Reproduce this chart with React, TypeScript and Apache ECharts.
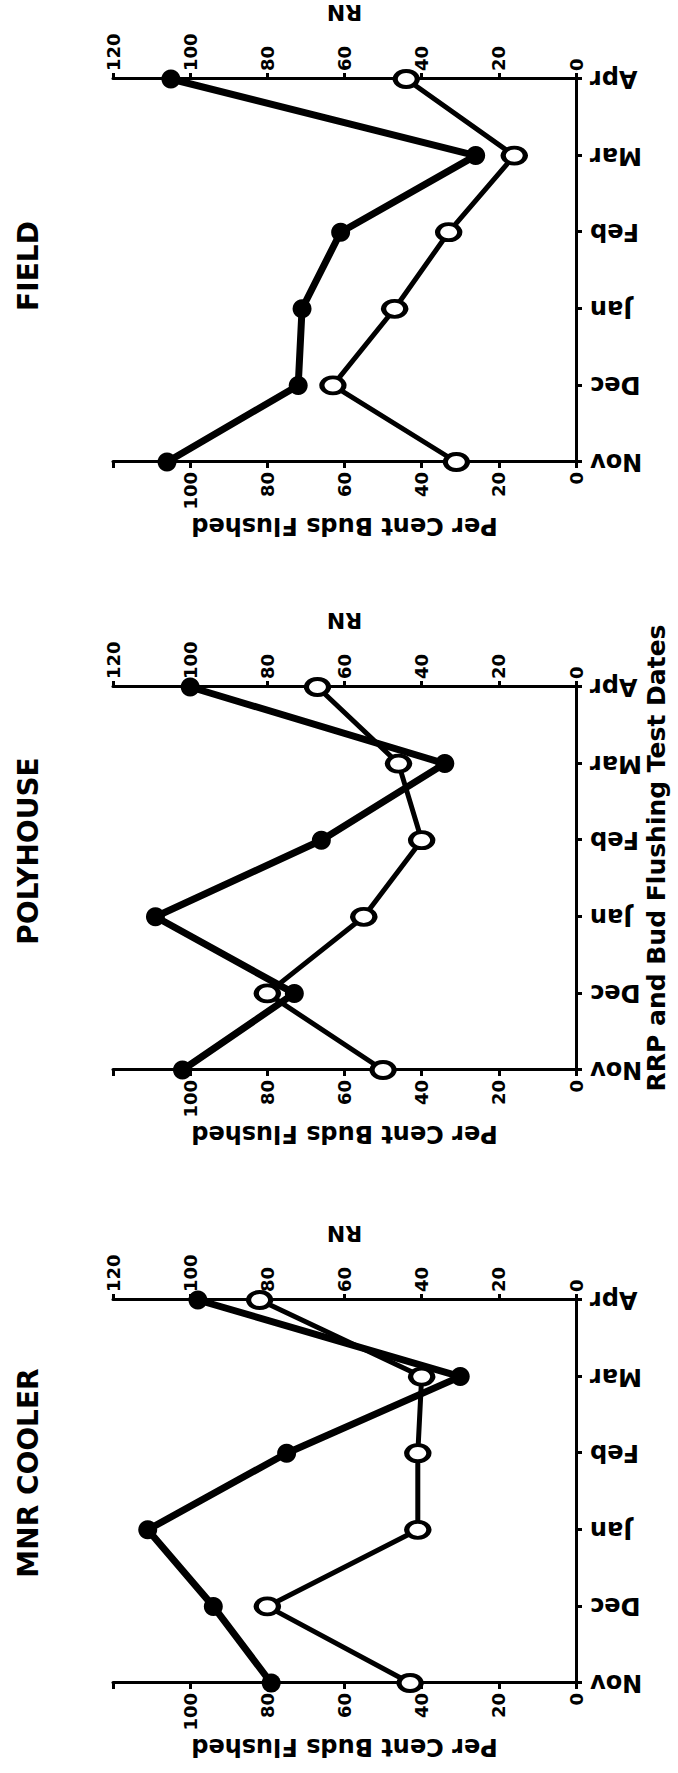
import React, { useEffect, useRef } from 'react';
import * as echarts from 'echarts';

// ---- data ----
const months = ['Nov', 'Dec', 'Jan', 'Feb', 'Mar', 'Apr'];
const panelTitles = ['MNR COOLER', 'POLYHOUSE', 'FIELD'];

// filled circles (RN, right axis)
const rnMnr = [79, 94, 111, 75, 30, 98];
const rnPoly = [102, 73, 109, 66, 34, 100];
const rnField = [106, 72, 71, 61, 26, 105];

// open circles (Per Cent Buds Flushed, left axis)
const pctMnr = [43, 80, 41, 41, 40, 82];
const pctPoly = [50, 80, 55, 40, 46, 67];
const pctField = [31, 63, 47, 33, 16, 44];

const axisMin = 0;
const axisMax = 120;
const axisStep = 20;

const xTitle = 'RRP and Bud Flushing Test Dates';
const leftName = 'Per Cent Buds Flushed';
const rightName = 'RN';

// ---- layout (chart drawn in landscape, then rotated) ----
const W = 1773;
const H = 678;
const FONT = 'DejaVu Sans';
const gridLefts = [90, 703, 1311];
const gridTop = 113;
const gridW = 383;
const gridH = 463;
const titleCenters = [300, 922, 1507];

const rnSets = [rnMnr, rnPoly, rnField];
const pctSets = [pctMnr, pctPoly, pctField];

const black = '#000';

function buildOption() {
  const axisLine = { show: true, onZero: false, lineStyle: { color: black, width: 3 } };
  const axisTick = { show: true, inside: false, length: 6, lineStyle: { color: black, width: 3 } };
  const labelBase = { color: black, fontFamily: FONT, fontWeight: 'bold' as const };

  const grid = gridLefts.map((l) => ({
    left: l,
    top: gridTop,
    width: gridW,
    height: gridH,
    containLabel: false,
    outerBoundsMode: 'none',
  }));

  const xAxis = gridLefts.map((_, i) => ({
    type: 'category',
    gridIndex: i,
    data: months,
    boundaryGap: false,
    axisLine,
    axisTick,
    axisLabel: { ...labelBase, rotate: 90, margin: 14, fontSize: 24 },
    splitLine: { show: false },
  }));

  const yAxis: any[] = [];
  gridLefts.forEach((_, i) => {
    yAxis.push({
      type: 'value',
      gridIndex: i,
      position: 'left',
      min: axisMin,
      max: axisMax,
      interval: axisStep,
      name: leftName,
      nameLocation: 'middle',
      nameRotate: 90,
      nameGap: 52,
      nameTextStyle: { ...labelBase, fontSize: 24 },
      axisLine,
      axisTick,
      axisLabel: {
        ...labelBase,
        fontSize: 18,
        margin: 10,
        formatter: (v: number) => (v === axisMax ? '' : String(v)),
      },
      splitLine: { show: false },
    });
    yAxis.push({
      type: 'value',
      gridIndex: i,
      position: 'right',
      min: axisMin,
      max: axisMax,
      interval: axisStep,
      name: rightName,
      nameLocation: 'middle',
      nameRotate: 90,
      nameGap: 56,
      nameTextStyle: { ...labelBase, fontSize: 22 },
      axisLine,
      axisTick,
      axisLabel: { ...labelBase, fontSize: 18, margin: 8 },
      splitLine: { show: false },
    });
  });

  const series: any[] = [];
  gridLefts.forEach((_, i) => {
    series.push({
      type: 'line',
      name: rightName + ' ' + panelTitles[i],
      xAxisIndex: i,
      yAxisIndex: 2 * i + 1,
      data: rnSets[i],
      symbol: 'circle',
      symbolSize: 19,
      itemStyle: { color: black },
      lineStyle: { color: black, width: 7 },
      emphasis: { disabled: true },
      z: 3,
    });
    series.push({
      type: 'line',
      name: leftName + ' ' + panelTitles[i],
      xAxisIndex: i,
      yAxisIndex: 2 * i,
      data: pctSets[i],
      symbol: 'circle',
      symbolSize: [16, 22],
      itemStyle: { color: '#fff', borderColor: black, borderWidth: 4.5 },
      lineStyle: { color: black, width: 5 },
      emphasis: { disabled: true },
      z: 4,
    });
  });

  const title: any[] = panelTitles.map((t, i) => ({
    text: t,
    left: titleCenters[i],
    top: 14,
    textAlign: 'center',
    padding: 0,
    textStyle: { color: black, fontFamily: FONT, fontWeight: 'bold', fontSize: 28 },
  }));
  title.push({
    text: xTitle,
    left: 915,
    top: 644,
    textAlign: 'center',
    padding: 0,
    textStyle: { color: black, fontFamily: FONT, fontWeight: 'bold', fontSize: 25 },
  });

  return {
    animation: false,
    backgroundColor: '#fff',
    textStyle: { fontFamily: FONT },
    title,
    grid,
    xAxis,
    yAxis,
    series,
  };
}

export default function App() {
  const ref = useRef<HTMLDivElement>(null);
  useEffect(() => {
    if (!ref.current) return;
    const chart = echarts.init(ref.current, null, { renderer: 'svg', width: W, height: H });
    chart.setOption(buildOption() as any);
    return () => {
      chart.dispose();
    };
  }, []);
  return (
    <div
      style={{
        position: 'absolute',
        left: 0,
        top: 0,
        width: H,
        height: W,
        overflow: 'hidden',
        background: '#fff',
      }}
    >
      <div
        ref={ref}
        style={{
          position: 'absolute',
          left: 0,
          top: 0,
          width: W,
          height: H,
          transformOrigin: '0 0',
          transform: `translate(0px, ${W}px) rotate(-90deg)`,
        }}
      />
    </div>
  );
}
